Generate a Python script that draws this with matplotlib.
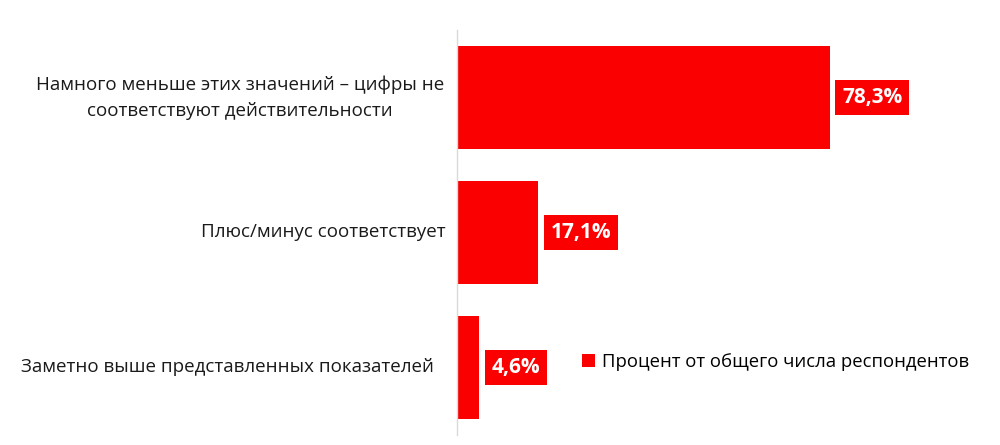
import matplotlib.pyplot as plt
from matplotlib.patches import Patch
from matplotlib.transforms import blended_transform_factory

categories = [
    "Намного меньше этих значений – цифры не\nсоответствуют действительности",
    "Плюс/минус соответствует",
    "Заметно выше представленных показателей",
]
values = [78.3, 17.1, 4.6]
value_labels = ["78,3%", "17,1%", "4,6%"]
series_name = "Процент от общего числа респондентов"

red = "#FA0000"
plt.rcParams['font.family'] = ['Open Sans', 'DejaVu Sans']

fig = plt.figure(figsize=(10, 4.45), dpi=100)
ax = fig.add_axes([0.457, 0.0225, 0.476, 0.9101])

y = list(range(len(categories)))
ax.barh(y, values, height=0.763, color=red)
ax.set_ylim(len(categories) - 0.5, -0.5)
ax.set_xlim(0, 100)

for yi, v, lab in zip(y, values, value_labels):
    ax.annotate(lab, (v, yi), xytext=(9, 0), textcoords='offset points',
                ha='left', va='center', color='white', fontsize=15, fontweight='bold',
                bbox=dict(boxstyle='square,pad=0.33', facecolor=red, edgecolor='none'))

# category labels: wrapped one centred, single lines right-aligned (as in Excel)
trans = blended_transform_factory(fig.transFigure, ax.transData)
label_pos = [(0.240, 'center'), (0.446, 'right'), (0.434, 'right')]
for yi, cat, (xp, ha) in zip(y, categories, label_pos):
    fig.text(xp, yi, cat, transform=trans, ha=ha, va='center', ma='center',
             fontsize=13.5, color='#1a1a1a', linespacing=1.55)

ax.set_yticks([])
ax.set_xticks([])
for s in ['top', 'right', 'bottom']:
    ax.spines[s].set_visible(False)
ax.spines['left'].set_color('#D9D9D9')
ax.spines['left'].set_linewidth(1)

fig.legend(handles=[Patch(facecolor=red, label=series_name)],
           loc='center left', bbox_to_anchor=(0.565, 0.187), frameon=False,
           fontsize=13.3, handlelength=0.7, handleheight=0.7, handletextpad=0.4)

fig.savefig("out.png", dpi=100)
